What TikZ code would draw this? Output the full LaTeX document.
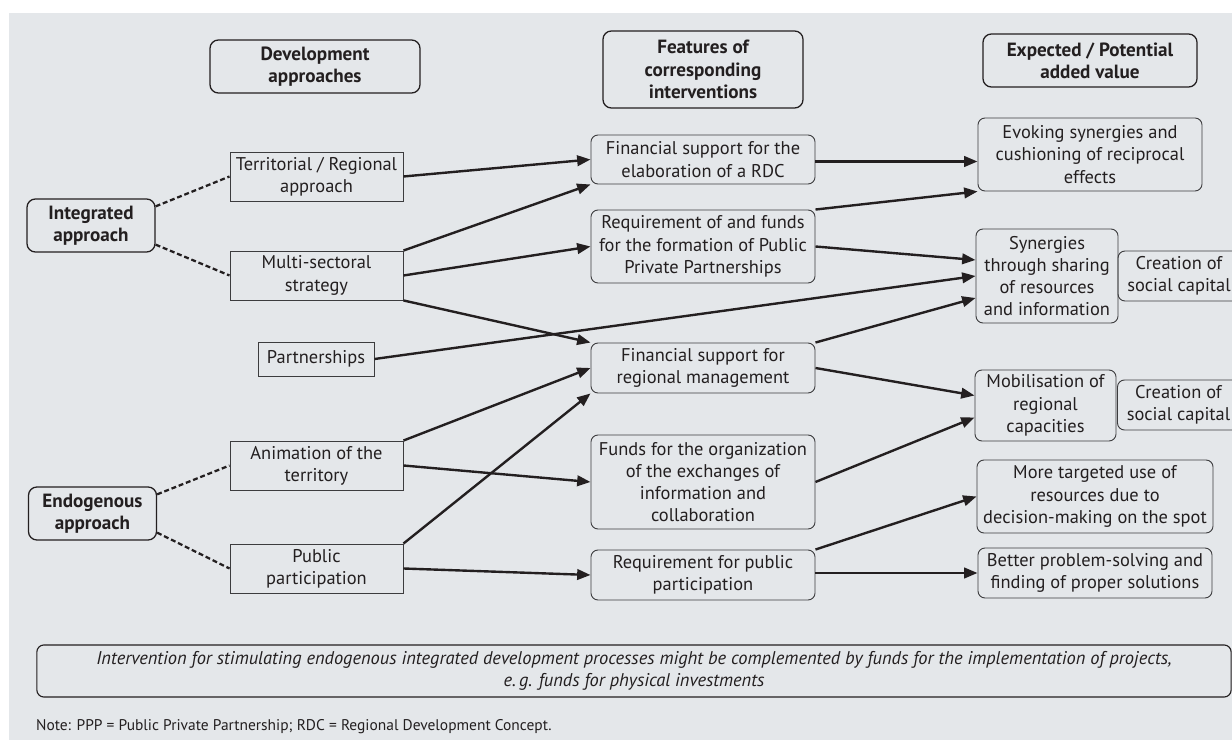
\documentclass[tikz,border=0pt]{standalone}
\usepackage{fontspec}
\setmainfont{PT Sans}
\usepackage{xcolor}
\definecolor{PanelGrey}{RGB}{228, 231, 234}
\definecolor{InkDark}{RGB}{35, 31, 32}
\definecolor{EdgeGrey}{RGB}{60, 60, 62}
\usepackage{tikz}
\usetikzlibrary{arrows.meta, positioning, calc}

\begin{document}
\begin{tikzpicture}[
  x=0.025cm, y=-0.025cm,
  every node/.style={text=InkDark, inner sep=2pt},
  font=\fontsize{13.1}{15.8}\selectfont,
  headbox/.style={rectangle, rounded corners=6pt, draw=InkDark,
    line width=0.9pt, align=center,
    font=\fontsize{13.6}{15.8}\selectfont\bfseries},
  apprbox/.style={rectangle, rounded corners=6pt, draw=InkDark,
    line width=0.9pt, minimum width=3.2cm, minimum height=1.325cm,
    align=center, font=\fontsize{13.6}{15.8}\selectfont\bfseries},
  srcbox/.style={rectangle, draw=EdgeGrey, line width=0.65pt,
    minimum width=4.325cm, minimum height=1.225cm, align=center},
  featbox/.style={rectangle, rounded corners=5pt, draw=EdgeGrey,
    line width=0.65pt, minimum width=5.6cm, align=center},
  valbox/.style={rectangle, rounded corners=5pt, draw=EdgeGrey,
    line width=0.65pt, align=center},
  arr/.style={-{Triangle[length=9.5pt,width=7.5pt]}, line width=1.7pt, draw=InkDark},
  dashln/.style={line width=1.6pt, dash pattern=on 3.5pt off 2pt, draw=InkDark}
]
  \useasboundingbox (0,0) rectangle (1232,740);
  \fill[PanelGrey] (9,13) rectangle (1232,740);

  % column headings
  \node[headbox, minimum width=5.25cm, minimum height=1.325cm] (hdev)  at (315,66.5)  {Development\\approaches};
  \node[headbox, minimum width=5.0cm,  minimum height=1.925cm] (hfeat) at (703,69.5)  {Features of\\corresponding\\interventions};
  \node[headbox, minimum width=5.35cm, minimum height=1.325cm] (hval)  at (1090,60.5) {Expected / Potential\\added value};

  % approaches
  \node[apprbox] (integ) at (91,225.5)  {Integrated\\approach};
  \node[apprbox] (endog) at (92.5,513.5) {Endogenous\\approach};

  \node[srcbox] (terr)   at (316.5,176.5) {Territorial / Regional\\approach};
  \node[srcbox] (multi)  at (316.5,275.5) {Multi-sectoral\\strategy};
  \node[srcbox, minimum width=2.9cm, minimum height=0.85cm] (partn) at (316,359) {Partnerships};
  \node[srcbox] (anim)   at (316.5,465.5) {Animation of the\\territory};
  \node[srcbox] (public) at (316.5,568.5) {Public\\participation};

  % interventions
  \node[featbox, minimum height=1.225cm] (rdc)    at (703,159.5) {Financial support for the\\elaboration of a RDC};
  \node[featbox, minimum height=1.825cm] (ppp)    at (703,246.5) {Requirement of and funds\\for the formation of Public\\Private Partnerships};
  \node[featbox, minimum height=1.25cm]  (regm)   at (703,368)   {Financial support for\\regional management};
  \node[featbox, minimum height=2.35cm]  (funds)  at (703,482)   {Funds for the organization\\of the exchanges of\\information and\\collaboration};
  \node[featbox, minimum height=1.25cm]  (reqpub) at (703,575)   {Requirement for public\\participation};

  % added value
  \node[valbox, minimum width=5.6cm,  minimum height=1.825cm] (evok) at (1090,154.5)  {Evoking synergies and\\cushioning of reciprocal\\effects};
  \node[valbox, minimum width=3.55cm, minimum height=2.35cm]  (syn)  at (1047,276)    {Synergies\\through sharing\\of resources\\and information};
  \node[valbox, minimum width=3.05cm, minimum height=1.25cm]  (soc1) at (1179,276)    {Creation of\\social capital};
  \node[valbox, minimum width=3.525cm, minimum height=1.775cm] (mob) at (1045.5,405.5) {Mobilisation of\\regional\\capacities};
  \node[valbox, minimum width=3.05cm, minimum height=1.25cm]  (soc2) at (1178.5,405)  {Creation of\\social capital};
  \node[valbox, minimum width=5.9cm,  minimum height=1.825cm] (more) at (1095,496.5)  {More targeted use of\\resources due to\\decision-making on the spot};
  \node[valbox, minimum width=5.85cm, minimum height=1.25cm]  (better) at (1095,573)  {Better problem-solving and\\finding of proper solutions};

  % footer
  \node[valbox, draw=InkDark, line width=0.8pt, minimum width=29.85cm, minimum height=1.3cm,
    font=\fontsize{13.1}{15.8}\selectfont\itshape] (extra) at (634,671)
    {Intervention for stimulating endogenous integrated development processes might be complemented by funds for the implementation of projects,\\e.\,g. funds for physical investments};
  \node[anchor=west, font=\fontsize{11}{13}\selectfont] (note) at (33,727)
    {Note: PPP = Public Private Partnership; RDC = Regional Development Concept.};

  % dashed links
  \draw[dashln] ([yshift=-0.2cm]integ.north east) -- (terr.west);
  \draw[dashln] ([yshift=0.2cm]integ.south east)  -- (multi.west);
  \draw[dashln] ([yshift=-0.2cm]endog.north east) -- (anim.west);
  \draw[dashln] ([yshift=0.2cm]endog.south east)  -- (public.west);

  % approaches -> interventions
  \draw[arr] (terr.east)         -- (rdc.west);
  \draw[arr] (multi.north east)  -- (rdc.south west);
  \draw[arr] (multi.east)        -- (ppp.west);
  \draw[arr] (multi.south east)  -- (regm.north west);
  \draw[arr] (partn.east)        -- (syn.west);
  \draw[arr] (anim.north east)   -- (regm.west);
  \draw[arr] (anim.east)         -- (funds.west);
  \draw[arr] (public.north east) -- (regm.south west);
  \draw[arr] (public.east)       -- (reqpub.west);

  % interventions -> added value
  \draw[arr] ([yshift=-0.05cm]rdc.east) -- ([yshift=-0.05cm]rdc.east -| evok.west);
  \draw[arr] (ppp.north east)    -- (evok.south west);
  \draw[arr] (ppp.east)          -- ([yshift=0.4cm]syn.west);
  \draw[arr] (regm.north east)   -- ([yshift=-0.55cm]syn.west);
  \draw[arr] (regm.east)         -- ([yshift=0.25cm]mob.west);
  \draw[arr] (funds.east)        -- ([yshift=-0.3cm]mob.west);
  \draw[arr] (reqpub.north east) -- (more.west);
  \draw[arr] ([yshift=0.05cm]reqpub.east) -- ([yshift=0.05cm]reqpub.east -| better.west);
\end{tikzpicture}
\end{document}
